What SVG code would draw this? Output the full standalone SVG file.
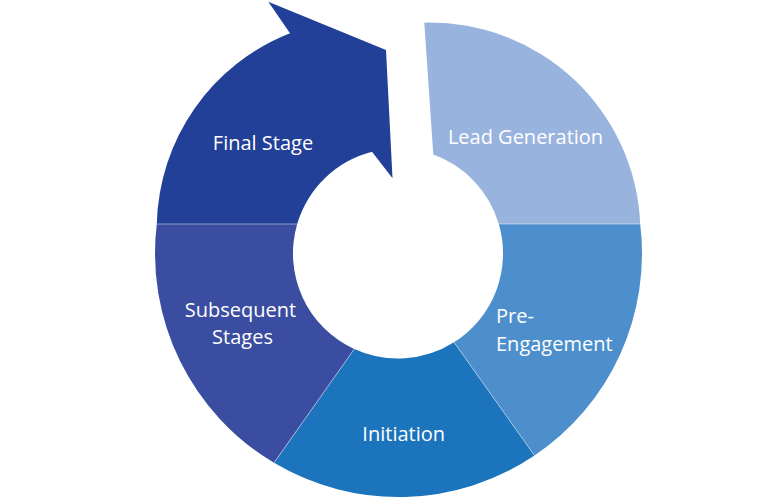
<svg xmlns="http://www.w3.org/2000/svg" width="762" height="504" viewBox="0 0 762 504">
<style>
.lbl{fill:#ffffff;font-family:"Open Sans","Noto Sans","Liberation Sans",sans-serif;font-size:20px}
.div{stroke:#ffffff;stroke-opacity:0.45;stroke-width:1;fill:none}
</style>
<rect width="762" height="504" fill="#ffffff"/>
<g id="final-stage">
<path d="M156.8,224 A210,210 0 0 1 290,33.3 L268.3,1.7 L386,50 L392.5,178.3 L372,151.8 A105,105 0 0 0 297.2,224 Z" fill="#224098"/>
<text class="lbl" x="263" y="150" text-anchor="middle">Final Stage</text>
</g>
<g id="lead-generation">
<path d="M424.3,22.7 L433.3,154.6 A105,105 0 0 1 498.8,224 L640.2,224 A210,210 0 0 0 424.3,22.7 Z" fill="#98b3dd"/>
<text class="lbl" x="525.5" y="144" text-anchor="middle">Lead Generation</text>
</g>
<g id="pre-engagement">
<path d="M498.8,224 L640.2,224 A243.5,243.5 0 0 1 534.5,455.5 L454,342.3 A105,105 0 0 0 498.8,224 Z" fill="#4d8fcc"/>
<text class="lbl" x="496" y="323">Pre-</text>
<text class="lbl" x="496" y="350.5">Engagement</text>
</g>
<g id="initiation">
<path d="M454,342.3 L534.5,455.5 A243.5,243.5 0 0 1 274,462.8 L354.3,349 A105,105 0 0 0 454,342.3 Z" fill="#1c75bc"/>
<text class="lbl" x="403.7" y="441" text-anchor="middle">Initiation</text>
</g>
<g id="subsequent-stages">
<path d="M274,462.8 A243.5,243.5 0 0 1 156.8,224 L297.2,224 A105,105 0 0 0 354.3,349 Z" fill="#3a4da0"/>
<text class="lbl" x="240.5" y="317" text-anchor="middle">Subsequent</text>
<text class="lbl" x="242.5" y="343.5" text-anchor="middle">Stages</text>
</g>
<g id="dividers">
<line class="div" x1="156.8" y1="224" x2="297.2" y2="224"/>
<line class="div" x1="498.8" y1="224" x2="640.2" y2="224"/>
<line class="div" x1="354.3" y1="349" x2="274" y2="462.8"/>
<line class="div" x1="454" y1="342.3" x2="534.5" y2="455.5"/>
</g>
</svg>
